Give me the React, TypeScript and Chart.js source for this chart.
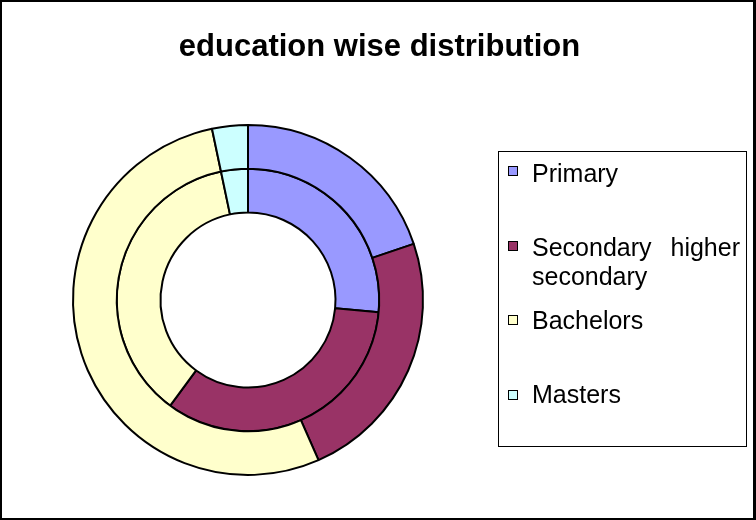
import React, { useEffect, useRef } from "react";
import { Chart, registerables } from "chart.js";

Chart.register(...registerables);

// Education levels and their shares (percent) for the two rings
const categories = ["Primary", "Secondary higher secondary", "Bachelors", "Masters"];
const outerRingValues = [19.8, 23.6, 53.3, 3.3];
const innerRingValues = [26.5, 33.6, 36.6, 3.3];
const sliceColors = ["#9999FF", "#993366", "#FFFFCC", "#CCFFFF"];
const chartTitle = "education wise distribution";

const FONT = '"Liberation Sans", Arial, Helvetica, sans-serif';

// Legend row layout (top of each text line, square centre)
const legendRows = [
  { textTop: 158.5, squareCenter: 171 },
  { textTop: 232.8, squareCenter: 246 },
  { textTop: 306.1, squareCenter: 320 },
  { textTop: 380.1, squareCenter: 394.5 },
];

export default function App() {
  const canvasRef = useRef<HTMLCanvasElement | null>(null);

  useEffect(() => {
    const canvas = canvasRef.current;
    if (!canvas) return;
    const chart = new Chart(canvas, {
      type: "doughnut",
      data: {
        labels: categories,
        datasets: [
          {
            label: "Outer ring",
            data: outerRingValues,
            backgroundColor: sliceColors,
            borderColor: "#000000",
            borderWidth: 2,
            hoverOffset: 0,
          },
          {
            label: "Inner ring",
            data: innerRingValues,
            backgroundColor: sliceColors,
            borderColor: "#000000",
            borderWidth: 2,
            hoverOffset: 0,
          },
        ],
      },
      options: {
        responsive: false,
        animation: false,
        devicePixelRatio: 1,
        cutout: "50%",
        layout: { padding: { left: 72, top: 124, right: 332, bottom: 44 } },
        plugins: {
          legend: { display: false },
          title: { display: false },
          tooltip: { enabled: false },
        },
        events: [],
      },
    });
    return () => chart.destroy();
  }, []);

  return (
    <div
      style={{
        position: "absolute",
        left: 0,
        top: 0,
        width: 756,
        height: 520,
        background: "#ffffff",
        fontFamily: FONT,
      }}
    >
      <canvas ref={canvasRef} width={756} height={520} style={{ position: "absolute", left: 0, top: 0 }} />
      {/* outer frame */}
      <div
        style={{
          position: "absolute",
          left: 0,
          top: 0,
          width: 751,
          height: 516,
          borderLeft: "2px solid #000",
          borderTop: "2px solid #000",
          borderRight: "3px solid #000",
          borderBottom: "2px solid #000",
          pointerEvents: "none",
        }}
      />
      {/* title */}
      <div
        style={{
          position: "absolute",
          left: 0,
          top: 28,
          width: 759,
          textAlign: "center",
          fontSize: 31,
          lineHeight: "36px",
          fontWeight: "bold",
          color: "#000",
          whiteSpace: "nowrap",
        }}
      >
        {chartTitle}
      </div>
      {/* legend box */}
      <div
        style={{
          position: "absolute",
          left: 498,
          top: 151,
          width: 247,
          height: 294,
          border: "1px solid #000",
          background: "#fff",
        }}
      />
      {categories.map((name, i) => (
        <React.Fragment key={name}>
          <div
            style={{
              position: "absolute",
              left: 508,
              top: legendRows[i].squareCenter - 5,
              width: 8,
              height: 8,
              border: "1px solid #000",
              background: sliceColors[i],
            }}
          />
          <div
            style={{
              position: "absolute",
              left: 532,
              top: legendRows[i].textTop,
              width: 208,
              fontSize: 25,
              lineHeight: "29px",
              textAlign: "justify",
              color: "#000",
            }}
          >
            {name}
          </div>
        </React.Fragment>
      ))}
    </div>
  );
}
